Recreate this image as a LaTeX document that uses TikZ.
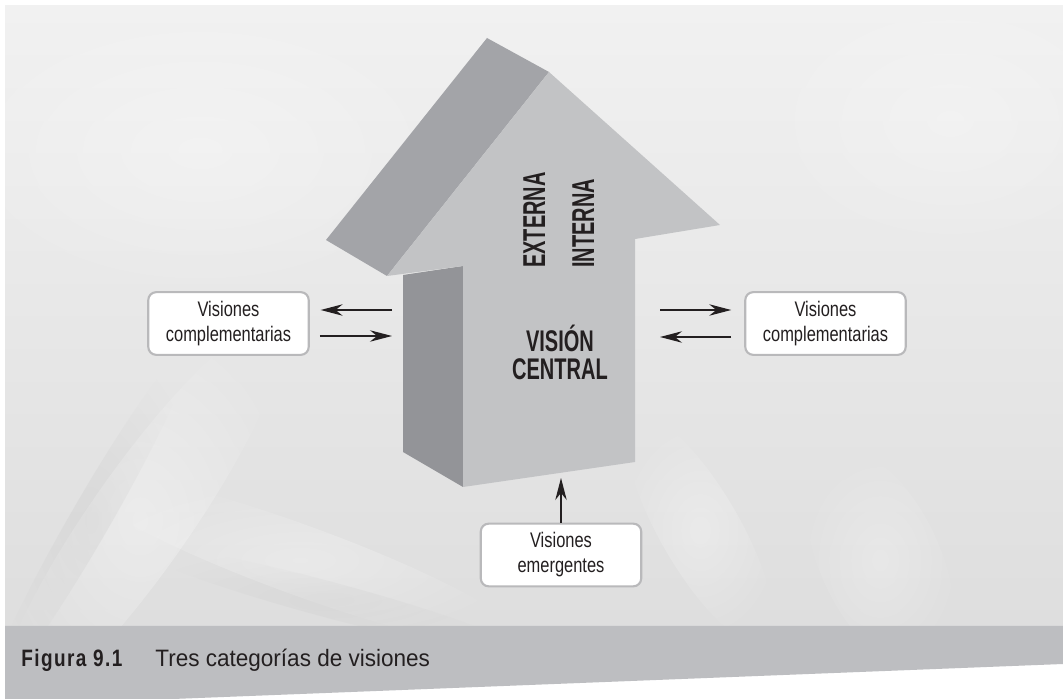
\documentclass[tikz,border=0pt]{standalone}
\usepackage{fontspec}
\setmainfont{Liberation Sans}
\newfontfamily\boxfont[FakeStretch=0.78]{Liberation Sans}
\newfontfamily\cenfont[FakeStretch=0.67]{Liberation Sans}
\newfontfamily\vertfont[FakeStretch=0.63]{Liberation Sans}
\newfontfamily\capfont[FakeStretch=0.95]{Liberation Sans}
\newfontfamily\figfont[FakeStretch=0.8,LetterSpace=6]{Liberation Sans}
\usetikzlibrary{arrows.meta,fadings}
\tikzfading[name=softblob, inner color=transparent!0, outer color=transparent!100]
\definecolor{bgtop}{HTML}{F1F1F1}
\definecolor{bgbot}{HTML}{DEDEDE}
\definecolor{topface}{HTML}{A3A4A8}
\definecolor{sideface}{HTML}{939498}
\definecolor{frontface}{HTML}{C2C3C5}
\definecolor{ink}{HTML}{231F20}
\definecolor{capbar}{HTML}{BDBEC1}
\definecolor{boxline}{HTML}{B9B9BB}
\tikzset{
  vbox/.style={draw=boxline, line width=1.2pt, fill=white, rounded corners=4.5pt,
    minimum width=91.3pt, minimum height=35.7pt, inner sep=0pt, align=center,
    font=\boxfont\fontsize{12pt}{14.2pt}\selectfont, text=ink},
  conn/.style={draw=ink, line width=0.8pt, -{Stealth[length=12.5pt,width=6.5pt,inset=4pt]}},
  verttext/.style={rotate=90, anchor=base west, inner sep=0pt, text=ink,
    font=\vertfont\bfseries\fontsize{18pt}{18pt}\selectfont},
  centext/.style={align=center, inner sep=0pt, text=ink,
    font=\cenfont\bfseries\fontsize{17pt}{15.9pt}\selectfont},
  captext/.style={anchor=base west, inner sep=0pt, text=ink},
  glow/.style={fill=white, path fading=softblob}
}
\begin{document}
\begin{tikzpicture}[x=0.02cm,y=-0.02cm]
\useasboundingbox (0,0) rectangle (1063,699);
% background
\fill[white] (0,0) rectangle (1063,699);
\shade[top color=bgtop, bottom color=bgbot] (5,6) rectangle (1063,626);
\begin{scope}
\clip (5,6) rectangle (1063,626);
\fill[glow, opacity=0.35, rotate around={-35:(140,520)}] (140,520) ellipse (50 and 240);
\fill[black!30, path fading=softblob, opacity=0.18, rotate around={-30:(90,520)}] (90,520) ellipse (20 and 200);
\fill[glow, opacity=0.3, rotate around={-20:(300,560)}] (300,560) ellipse (240 and 35);
\fill[black!30, path fading=softblob, opacity=0.14, rotate around={-15:(330,600)}] (330,600) ellipse (200 and 18);
\fill[glow, opacity=0.3, rotate around={30:(700,530)}] (700,530) ellipse (40 and 130);
\fill[glow, opacity=0.25, rotate around={25:(880,560)}] (880,560) ellipse (60 and 120);
\fill[glow, opacity=0.3] (200,150) ellipse (260 and 150);
\fill[glow, opacity=0.25] (950,120) ellipse (200 and 140);
\end{scope}
% caption bar
\fill[capbar] (5,626) -- (1063,626) -- (1063,664) -- (173,699) -- (5,699) -- cycle;
% 3D arrow
\fill[topface] (326,240) -- (487,38) -- (549,72) -- (387,276) -- cycle;
\fill[sideface] (403,275) -- (463,266) -- (463,487) -- (403,452) -- cycle;
\fill[frontface] (463,487) -- (635,462) -- (635,239) -- (720,225) -- (549,72) -- (387,276) -- (463,266) -- cycle;
% texts on arrow
\node[verttext] (ext) at (545,268) {EXTERNA};
\node[verttext] (int) at (594,268) {INTERNA};
\node[centext] (cen) at (560,352) {VISIÓN\\CENTRAL};
% boxes
\node[vbox] (L) at (228.5,323.5) {Visiones\\complementarias};
\node[vbox] (R) at (825.5,323.5) {Visiones\\complementarias};
\node[vbox] (B) at (561,555) {Visiones\\emergentes};
% connectors
\coordinate (la) at (392,310);
\coordinate (lb) at (392,336);
\coordinate (ra) at (660,310);
\coordinate (rb) at (660,337);
\coordinate (bt) at (561,478);
\draw[conn, shorten >=6.2pt] (la) -- (la -| L.east);
\draw[conn, shorten <=5.7pt] (lb -| L.east) -- (lb);
\draw[conn, shorten >=7.4pt] (ra) -- (ra -| R.west);
\draw[conn, shorten <=7.4pt] (rb -| R.west) -- (rb);
\draw[conn] (B.north) -- (bt);
% caption
\node[captext, font=\figfont\bfseries\fontsize{13.5pt}{14pt}\selectfont] (fig) at (21,666) {Figura 9.1};
\node[captext, font=\capfont\fontsize{13.5pt}{14pt}\selectfont] (cap) at (155,666) {Tres categorías de visiones};
\end{tikzpicture}
\end{document}
